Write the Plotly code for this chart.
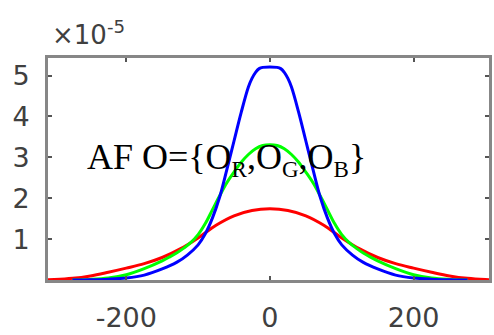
import plotly.graph_objects as go

# x positions (data units) and values (in units of 1e-5)
red_x = [-310, -300, -275, -250, -225, -200, -175, -150, -125, -100, -75, -50, -25, 0,
         25, 50, 75, 100, 125, 150, 175, 200, 225, 250, 275, 300, 310]
red_v = [0.005, 0.01, 0.04, 0.10, 0.19, 0.29, 0.40, 0.55, 0.76, 1.03, 1.34, 1.57, 1.70, 1.74,
         1.70, 1.57, 1.34, 1.03, 0.76, 0.55, 0.40, 0.29, 0.19, 0.10, 0.04, 0.01, 0.005]

green_x = [-275, -250, -225, -200, -175, -150, -140, -130, -120, -110, -100, -90, -80, -70, -60,
           -50, -40, -30, -20, -10, 0, 10, 20, 30, 40, 50, 60, 70, 80, 90, 100, 110, 120,
           130, 140, 150, 175, 200, 225, 250, 275]
green_v = [0.0, 0.015, 0.05, 0.13, 0.28, 0.47, 0.56, 0.66, 0.78, 0.92, 1.11, 1.38, 1.72, 2.06, 2.38,
           2.64, 2.88, 3.07, 3.21, 3.29, 3.31, 3.29, 3.21, 3.07, 2.88, 2.64, 2.38, 2.06, 1.72, 1.38,
           1.11, 0.92, 0.78, 0.66, 0.56, 0.47, 0.28, 0.13, 0.05, 0.015, 0.0]

blue_x = [-275, -250, -225, -200, -175, -150, -130, -115, -100, -90, -80, -70, -60, -50, -40,
          -30, -25, -20, -15, -10, 0, 10, 15, 20, 25, 30, 40, 50, 60, 70, 80, 90, 100, 115,
          130, 150, 175, 200, 225, 250, 275]
blue_v = [0.0, 0.006, 0.02, 0.05, 0.12, 0.27, 0.43, 0.61, 0.86, 1.13, 1.52, 2.03, 2.70, 3.40, 4.10,
          4.72, 4.93, 5.08, 5.17, 5.20, 5.21, 5.20, 5.17, 5.08, 4.93, 4.72, 4.10, 3.40, 2.70, 2.03,
          1.52, 1.13, 0.86, 0.61, 0.43, 0.27, 0.12, 0.05, 0.02, 0.006, 0.0]

SCALE = 1e-5
x_ticks = [-200, 0, 200]
x_ticktext = ["-200", "0", "200"]
y_ticks = [1, 2, 3, 4, 5]
y_ticktext = ["1", "2", "3", "4", "5"]

fig = go.Figure()
for xs, vs, col in [(red_x, red_v, "#ff0000"), (green_x, green_v, "#00ff00"), (blue_x, blue_v, "#0000ff")]:
    fig.add_trace(go.Scatter(
        x=xs, y=[v * SCALE for v in vs], mode="lines",
        line=dict(color=col, width=3, shape="spline", smoothing=1.0),
        showlegend=False, hoverinfo="skip"))

axis_common = dict(
    showline=True, linecolor="#878787", linewidth=3, mirror="ticks",
    ticks="inside", ticklen=4, tickwidth=1.5, tickcolor="#555555",
    showgrid=False, zeroline=False,
    tickfont=dict(family="DejaVu Sans", size=27, color="#404040"),
)

fig.update_xaxes(range=[-309, 305], tickvals=x_ticks, ticktext=x_ticktext,
                 ticklabelstandoff=12, **axis_common)
fig.update_yaxes(range=[0, 5.43 * SCALE], tickvals=[t * SCALE for t in y_ticks],
                 ticktext=y_ticktext, ticklabelstandoff=10, **axis_common)

fig.add_annotation(
    xref="paper", yref="paper", x=0.0045, y=1.026, xanchor="left", yanchor="bottom",
    text="×10<sup>-5</sup>", showarrow=False,
    font=dict(family="DejaVu Sans", size=26, color="#404040"))

fig.add_annotation(
    xref="paper", yref="paper", x=0.085, y=0.545, xanchor="left", yanchor="middle",
    text="AF O={O<sub><span style='font-size:23px'>R</span></sub>,O<sub><span style='font-size:23px'>G</span></sub>,O<sub><span style='font-size:23px'>B</span></sub>}",
    showarrow=False,
    font=dict(family="Liberation Serif", size=36, color="#000000"))

fig.update_layout(
    width=494, height=335,
    margin=dict(l=48, r=2, t=58, b=49),
    paper_bgcolor="white", plot_bgcolor="white",
)

fig.write_html("out.html")
